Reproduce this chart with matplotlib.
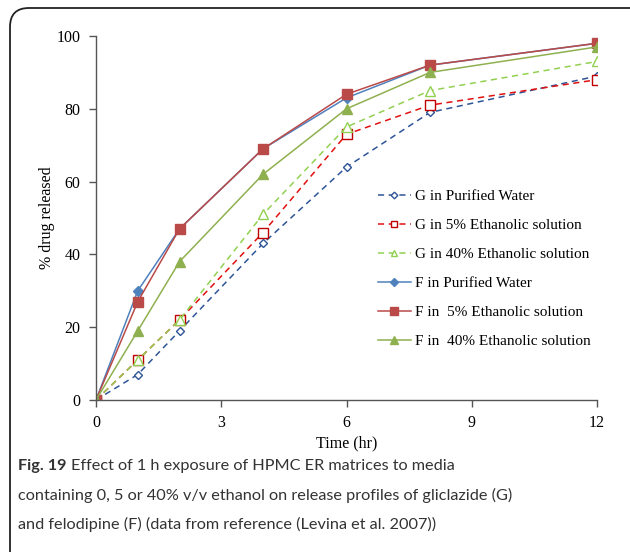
import matplotlib
matplotlib.use("Agg")
import matplotlib.pyplot as plt
from matplotlib.patches import FancyBboxPatch

time_hr = [0, 1, 2, 4, 6, 8, 12]
g_water = [0, 7, 19, 43, 64, 79, 89]
g_eth5 = [0, 11, 22, 46, 73, 81, 88]
g_eth40 = [0, 11, 22, 51, 75, 85, 93]
f_water = [0, 30, 47, 69, 83, 92, 98]
f_eth5 = [0, 27, 47, 69, 84, 92, 98]
f_eth40 = [0, 19, 38, 62, 80, 90, 97]

labels = ["G in Purified Water", "G in 5% Ethanolic solution", "G in 40% Ethanolic solution",
          "F in Purified Water", "F in  5% Ethanolic solution", "F in  40% Ethanolic solution"]
xticks = [0, 3, 6, 9, 12]
yticks = [0, 20, 40, 60, 80, 100]

serif = ["Liberation Serif", "DejaVu Serif"]

fig = plt.figure(figsize=(6.3, 5.52), dpi=100)
ax = fig.add_axes([96/630, 1-400/552, (597-96)/630, (400-36)/552])

lw = 1.1
ax.plot(time_hr, g_water, ls=(0, (4, 3)), color="#2F5597", lw=lw, marker="D", ms=4.5,
        mfc="white", mec="#2F5597", mew=1, label=labels[0])
ax.plot(time_hr, g_eth5, ls=(0, (4, 3)), color="#E01010", lw=lw, marker="s", ms=6.5,
        mfc="white", mec="#C00000", mew=1, label=labels[1])
ax.plot(time_hr, g_eth40, ls=(0, (4, 3)), color="#92D050", lw=lw, marker="^", ms=6.5,
        mfc="white", mec="#92D050", mew=1, label=labels[2])
ax.plot(time_hr, f_water, ls="-", color="#4F81BD", lw=lw, marker="D", ms=5,
        mfc="#4F81BD", mec="#4F81BD", label=labels[3])
ax.plot(time_hr, f_eth5, ls="-", color="#B94A48", lw=lw, marker="s", ms=7,
        mfc="#B94A48", mec="#B94A48", label=labels[4])
ax.plot(time_hr, f_eth40, ls="-", color="#8FB04F", lw=lw, marker="^", ms=7,
        mfc="#8FB04F", mec="#8FB04F", label=labels[5])

ax.set_xlim(0, 12)
ax.set_ylim(0, 100)
ax.set_xticks(xticks)
ax.set_yticks(yticks)
for s in ["top", "right"]:
    ax.spines[s].set_visible(False)
for s in ["left", "bottom"]:
    ax.spines[s].set_color("#555555")
    ax.spines[s].set_linewidth(1.0)
ax.tick_params(direction="out", length=5, width=1.0, color="#555555", labelsize=11.5, pad=6)
for t in ax.get_xticklabels() + ax.get_yticklabels():
    t.set_fontfamily(serif)
ax.set_xlabel("Time (hr)", fontfamily=serif, fontsize=11.5, labelpad=3)
ax.set_ylabel("% drug released", fontfamily=serif, fontsize=11.5, labelpad=1)

leg = ax.legend(loc="upper left", bbox_to_anchor=(0.563, 0.578), frameon=False,
                prop={"family": serif, "size": 11}, labelspacing=1.0,
                handlelength=2.15, handletextpad=0.27, borderaxespad=0, borderpad=0,
                markerscale=0.75)

# border
fig.patches.append(FancyBboxPatch((10/630, -0.05), 1.2, 1-8/552+0.05,
                                  boxstyle="round,pad=0,rounding_size=0.03",
                                  transform=fig.transFigure, fill=False,
                                  ec="#222222", lw=1.3, mutation_aspect=630/552))

cap_font = ["Lato", "DejaVu Sans"]
cfs = 11.7
cx = 18/630
fig.text(cx, 1-466/552, "Fig. 19", fontweight="bold", fontfamily=cap_font, fontsize=cfs,
         color="#333333", va="center")
fig.text(cx + 53/630, 1-466/552, "Effect of 1 h exposure of HPMC ER matrices to media",
         fontfamily=cap_font, fontsize=cfs, color="#333333", va="center")
fig.text(cx, 1-495/552, "containing 0, 5 or 40% v/v ethanol on release profiles of gliclazide (G)",
         fontfamily=cap_font, fontsize=cfs, color="#333333", va="center")
fig.text(cx, 1-524/552, "and felodipine (F) (data from reference (Levina et al. 2007))",
         fontfamily=cap_font, fontsize=cfs, color="#333333", va="center")

fig.savefig("out.png", dpi=100)
